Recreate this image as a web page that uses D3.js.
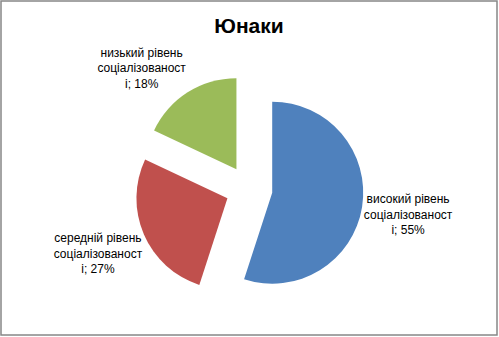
<!DOCTYPE html>
<html>
<head>
<meta charset="utf-8">
<script src="https://cdn.jsdelivr.net/npm/d3@7"></script>
<style>
  body { margin: 0; background: #fff; }
  text { font-family: "Liberation Sans", Arial, sans-serif; }
</style>
</head>
<body>
<svg width="499" height="337"></svg>
<script>
var title = "Юнаки";
var categories = ["високий рівень соціалізованост і", "середній рівень соціалізованост і", "низький рівень соціалізованост і"];
var labelLines = [
    ["високий рівень", "соціалізованост", "і; 55%"],
    ["середній рівень", "соціалізованост", "і; 27%"],
    ["низький рівень", "соціалізованост", "і; 18%"]
];
var values = [55, 27, 18];
var colors = ["#4f81bd", "#c0504d", "#9bbb59"];

var svg = d3.select("svg"),
    width = +svg.attr("width"),
    height = +svg.attr("height"),
    cx = 249, cy = 189,
    radius = 91,
    explode = 23.5;

svg.append("rect")
    .attr("x", 1).attr("y", 1)
    .attr("width", width - 3).attr("height", height - 3)
    .attr("fill", "#fff")
    .attr("stroke", "#878787")
    .attr("stroke-width", 1.5);

svg.append("text")
    .attr("x", cx)
    .attr("y", 33)
    .attr("text-anchor", "middle")
    .attr("font-size", 21)
    .attr("font-weight", "bold")
    .text(title);

var pie = d3.pie().sort(null).value(function (d) { return d; });
var arc = d3.arc().innerRadius(0).outerRadius(radius);
var arcs = pie(values);

var g = svg.append("g").attr("transform", "translate(" + cx + "," + cy + ")");

function dir(d) {
    var a = (d.startAngle + d.endAngle) / 2;
    return [Math.sin(a), -Math.cos(a)];
}

g.selectAll("path")
    .data(arcs)
    .enter().append("path")
    .attr("d", arc)
    .attr("fill", function (d, i) { return colors[i]; })
    .attr("transform", function (d) {
        var v = dir(d);
        return "translate(" + v[0] * explode + "," + v[1] * explode + ")";
    });

// labels: outside end, box pushed away from the slice edge
var lineH = 15.5, boxW = 88;
var label = g.selectAll("g.label")
    .data(arcs)
    .enter().append("g")
    .attr("class", "label")
    .attr("transform", function (d, i) {
        var v = dir(d),
            boxH = labelLines[i].length * lineH,
            ox = v[0] * (radius + explode),
            oy = v[1] * (radius + explode),
            kx = Math.max(-1, Math.min(1, v[0] / 0.5)),
            ky = Math.max(-1, Math.min(1, v[1] / 0.5));
        return "translate(" + (ox + kx * (boxW / 2 + 2)) + "," + (oy + ky * (boxH / 2 + 1)) + ")";
    });

label.selectAll("text")
    .data(function (d, i) { return labelLines[i]; })
    .enter().append("text")
    .attr("text-anchor", "middle")
    .attr("font-size", 12)
    .attr("fill", "#000")
    .attr("y", function (d, j, n) { return (j - (n.length - 1) / 2) * lineH; })
    .attr("dy", "0.35em")
    .text(function (d) { return d; });
</script>
</body>
</html>
